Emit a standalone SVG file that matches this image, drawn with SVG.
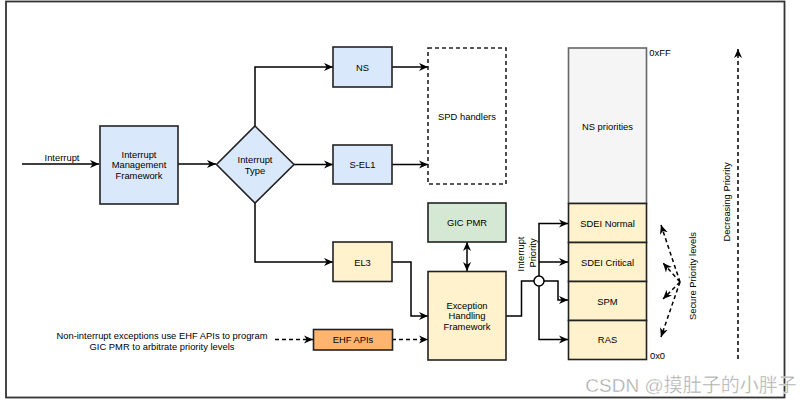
<svg xmlns="http://www.w3.org/2000/svg" width="807" height="406" viewBox="0 0 807 406">
<defs>
<style>
text{font-family:"Liberation Sans",Arial,sans-serif;font-size:9.4px;fill:#000;text-anchor:middle;dominant-baseline:central}
.n{stroke:#222;stroke-width:1.6}
.blue{fill:#dae8fc}
.yel{fill:#fff2cc}
.grn{fill:#d5e8d4}
.org{fill:#ffb570}
.c{fill:none;stroke:#000;stroke-width:1.5}
.d{stroke-dasharray:4 3}
</style>
<marker id="a" viewBox="0 0 10 10" refX="10" refY="5" markerWidth="9" markerHeight="9" markerUnits="userSpaceOnUse" orient="auto-start-reverse">
<path d="M0,0.5 L10,5 L0,9.5 L3,5 Z" fill="#000"/>
</marker>
</defs>
<rect x="0" y="0" width="807" height="406" fill="#fff"/>
<rect x="6" y="1.5" width="778.5" height="396" fill="none" stroke="#333" stroke-width="1.8"/>

<g id="connectors">
<path class="c" d="M22,164 H99" marker-end="url(#a)"/>
<path class="c" d="M178,164 H216" marker-end="url(#a)"/>
<path class="c" d="M255,126 V67 H333" marker-end="url(#a)"/>
<path class="c" d="M294,164.5 H333" marker-end="url(#a)"/>
<path class="c" d="M255,203 V262 H333" marker-end="url(#a)"/>
<path class="c" d="M392,67 H428" marker-end="url(#a)"/>
<path class="c" d="M392,164.5 H428" marker-end="url(#a)"/>
<path class="c" d="M392,262 H411 V316 H428" marker-end="url(#a)"/>
<path class="c" d="M467,242 V271" marker-start="url(#a)" marker-end="url(#a)"/>
<path class="c d" d="M275,339.5 H313" marker-end="url(#a)"/>
<path class="c d" d="M392,339.5 H428" marker-end="url(#a)"/>
<path class="c" d="M506,316 H521.5 V281 H534"/>
<path class="c" d="M539,276 V223.5 H568" marker-end="url(#a)"/>
<path class="c" d="M539,262 H568" marker-end="url(#a)"/>
<path class="c" d="M539,286 V339.5 H568" marker-end="url(#a)"/>
<path class="c" d="M544,281 H558 V300 H568" marker-end="url(#a)"/>
<path class="c d" d="M738,359 V49" marker-end="url(#a)"/>
<path class="c d" d="M680,282 L661,225" marker-end="url(#a)"/>
<path class="c d" d="M680,282 L661,337" marker-end="url(#a)"/>
<path class="c d" d="M680,282 L663,263" marker-end="url(#a)"/>
<path class="c d" d="M680,282 L663,299" marker-end="url(#a)"/>
<circle cx="539" cy="281" r="5" fill="#fff" stroke="#000" stroke-width="1.5"/>
<text x="62" y="157.5">Interrupt</text>
<text x="162" y="335">Non-interrupt exceptions use EHF APIs to program</text>
<text x="162" y="346">GIC PMR to arbitrate priority levels</text>
<text transform="rotate(-90 520 254)" x="520" y="254">Interrupt</text>
<text transform="rotate(-90 532 253)" x="532" y="253">Priority</text>
<text transform="rotate(-90 726 202)" x="726" y="202">Decreasing Priority</text>
<text transform="rotate(-90 692 276)" x="692" y="276">Secure  Priority levels</text>
</g>

<g id="imf">
<rect class="n blue" x="100" y="126" width="78" height="78"/>
<text x="139" y="154">Interrupt</text>
<text x="139" y="164.5">Management</text>
<text x="139" y="175">Framework</text>
</g>
<g id="type">
<polygon class="n blue" points="255,126 294,164.5 255,203 216.5,164.5"/>
<text x="255" y="159">Interrupt</text>
<text x="255" y="170">Type</text>
</g>
<g id="ns">
<rect class="n blue" x="333" y="47" width="59" height="40"/>
<text x="362.5" y="67">NS</text>
</g>
<g id="sel1">
<rect class="n blue" x="333" y="145" width="59" height="39"/>
<text x="362.5" y="164.5">S-EL1</text>
</g>
<g id="el3">
<rect class="n yel" x="333" y="242" width="59" height="39.5"/>
<text x="362.5" y="262">EL3</text>
</g>
<g id="spd">
<rect x="428" y="48" width="78" height="136" fill="#fff" stroke="#222" stroke-width="1.6" stroke-dasharray="4 3"/>
<text x="467" y="116">SPD handlers</text>
</g>
<g id="gicpmr">
<rect class="n grn" x="428" y="203" width="78" height="39"/>
<text x="467" y="222.5">GIC PMR</text>
</g>
<g id="ehf">
<rect class="n yel" x="428" y="271.5" width="78" height="88.5"/>
<text x="467" y="305">Exception</text>
<text x="467" y="315.5">Handling</text>
<text x="467" y="326">Framework</text>
</g>
<g id="ehfapis">
<rect class="n org" x="313.5" y="329.5" width="79" height="20.5"/>
<text x="353" y="339.5">EHF APIs</text>
</g>
<g id="nsprio">
<rect x="568.5" y="48" width="78" height="155.5" fill="#f5f5f5" stroke="#666" stroke-width="1.6"/>
<text x="607.5" y="126">NS priorities</text>
<text x="660" y="52.5">0xFF</text>
</g>
<g id="sdeinormal">
<rect class="n yel" x="568.5" y="203.5" width="78" height="39"/>
<text x="607.5" y="223.5">SDEI Normal</text>
</g>
<g id="sdeicritical">
<rect class="n yel" x="568.5" y="242.5" width="78" height="39"/>
<text x="607.5" y="262.5">SDEI Critical</text>
</g>
<g id="spm">
<rect class="n yel" x="568.5" y="281.5" width="78" height="39"/>
<text x="607.5" y="301">SPM</text>
</g>
<g id="ras">
<rect class="n yel" x="568.5" y="320.5" width="78" height="39"/>
<text x="607.5" y="339.5">RAS</text>
<text x="657.5" y="355">0x0</text>
</g>
<text x="691" y="385.5" style="font-family:'Liberation Sans','Noto Sans CJK SC',sans-serif;font-size:19px;fill:#a6a6a6;stroke:#fff;stroke-width:0.4">CSDN @摸肚子的小胖子</text>
</svg>
